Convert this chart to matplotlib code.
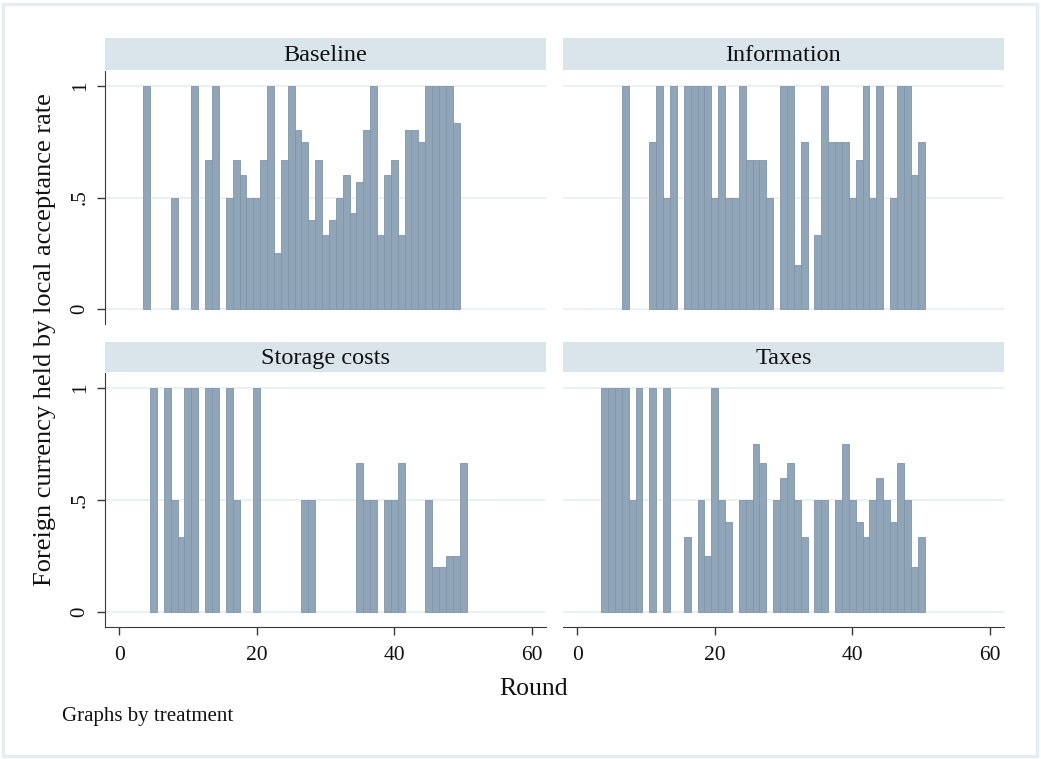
import matplotlib
matplotlib.use("Agg")
import matplotlib.pyplot as plt
from matplotlib.patches import Rectangle

plt.rcParams['font.family'] = ['Liberation Serif', 'DejaVu Serif']

# acceptance rate per round, one pair of lists per treatment
baseline_rounds = [4, 8, 11, 13, 14, 16, 17, 18, 19, 20, 21, 22, 23, 24, 25, 26, 27, 28, 29, 30,
                   31, 32, 33, 34, 35, 36, 37, 38, 39, 40, 41, 42, 43, 44, 45, 46, 47, 48, 49]
baseline_vals = [1, .5, 1, .667, 1, .5, .667, .6, .5, .5, .667, 1, .25, .667, 1, .8, .75, .4, .667, .333,
                 .4, .5, .6, .429, .571, .8, 1, .333, .6, .667, .333, .8, .8, .75, 1, 1, 1, 1, .833]

info_rounds = [7, 11, 12, 13, 14, 16, 17, 18, 19, 20, 21, 22, 23, 24, 25, 26, 27, 28, 30, 31,
               32, 33, 35, 36, 37, 38, 39, 40, 41, 42, 43, 44, 46, 47, 48, 49, 50]
info_vals = [1, .75, 1, .5, 1, 1, 1, 1, 1, .5, 1, .5, .5, 1, .667, .667, .667, .5, 1, 1,
             .2, .75, .333, 1, .75, .75, .75, .5, .667, 1, .5, 1, .5, 1, 1, .6, .75]

storage_rounds = [5, 7, 8, 9, 10, 11, 13, 14, 16, 17, 20, 27, 28, 35, 36, 37, 39, 40, 41,
                  45, 46, 47, 48, 49, 50]
storage_vals = [1, 1, .5, .333, 1, 1, 1, 1, 1, .5, 1, .5, .5, .667, .5, .5, .5, .5, .667,
                .5, .2, .2, .25, .25, .667]

taxes_rounds = [4, 5, 6, 7, 8, 9, 11, 13, 16, 18, 19, 20, 21, 22, 24, 25, 26, 27, 29, 30,
                31, 32, 33, 35, 36, 38, 39, 40, 41, 42, 43, 44, 45, 46, 47, 48, 49, 50]
taxes_vals = [1, 1, 1, 1, .5, 1, 1, 1, .333, .5, .25, 1, .5, .4, .5, .5, .75, .667, .5, .6,
              .667, .5, .333, .5, .5, .5, .75, .5, .4, .333, .5, .6, .5, .4, .667, .5, .2, .333]

titles = ['Baseline', 'Information', 'Storage costs', 'Taxes']
x_ticks = [0, 20, 40, 60]
y_ticks = [0, .5, 1]
y_ticklabels = ['0', '.5', '1']

W, H = 1041, 759
fig = plt.figure(figsize=(W / 100, H / 100), dpi=100)

def px(x0, y0, x1, y1):
    # pixel box (top-left origin) -> figure fraction
    return [x0 / W, 1 - y1 / H, (x1 - x0) / W, (y1 - y0) / H]

# outer graph region frame
fig.patches.append(Rectangle((3 / W, 3 / H), (W - 7) / W, (H - 7) / H, transform=fig.transFigure,
                             fill=False, edgecolor='#e6edf1', linewidth=2.5))

panels = [
    (baseline_rounds, baseline_vals, 105, 546, 38, 71, 324, False),
    (info_rounds, info_vals, 563, 1004, 38, 71, 324, False),
    (storage_rounds, storage_vals, 105, 546, 342, 373, 627, True),
    (taxes_rounds, taxes_vals, 563, 1004, 342, 373, 627, True),
]

bar_color = '#91a5b8'
edge_color = '#8196ab'
axis_color = '#3a3a3a'

for (rounds, vals, x0, x1, s0, y0, y1, bottom), title in zip(panels, titles):
    # strip title
    sax = fig.add_axes(px(x0, s0, x1, y0 - 1))
    sax.set_facecolor('#d9e5eb')
    sax.set_xticks([])
    sax.set_yticks([])
    for sp in sax.spines.values():
        sp.set_visible(False)
    sax.text(0.5, 0.46, title, ha='center', va='center', fontsize=17.5, color='#111111',
             transform=sax.transAxes)

    ax = fig.add_axes(px(x0, y0, x1, y1))
    ax.bar(rounds, vals, width=1, color=bar_color, edgecolor=edge_color, linewidth=0.6, zorder=3)
    ax.set_xlim(-2.05, 62.05)
    ax.set_ylim(-0.066, 1.066)
    ax.set_yticks(y_ticks)
    ax.set_yticklabels(y_ticklabels, rotation=90, va='center', fontsize=15)
    ax.yaxis.grid(True, color='#e8f0f2', linewidth=1.3, zorder=0)
    ax.set_axisbelow(True)
    ax.spines['top'].set_visible(False)
    ax.spines['right'].set_visible(False)
    ax.spines['left'].set_color(axis_color)
    ax.spines['bottom'].set_color(axis_color)
    ax.tick_params(axis='y', length=6, width=1, color=axis_color, labelcolor='#111111', pad=5)
    if x0 > 300:
        ax.spines['left'].set_visible(False)
        ax.tick_params(axis='y', left=False, labelleft=False)
    if bottom:
        ax.set_xticks(x_ticks)
        ax.tick_params(axis='x', length=6, width=1, color=axis_color, labelcolor='#111111',
                       labelsize=15.5, pad=8)
    else:
        ax.spines['bottom'].set_visible(False)
        ax.set_xticks([])

fig.text(534 / W, 1 - 689 / H, 'Round', ha='center', va='center', fontsize=18.5, color='#111111')
fig.text(45 / W, 1 - 340 / H, 'Foreign currency held by local acceptance rate', ha='center',
         va='center', rotation=90, fontsize=19, color='#111111')
fig.text(62 / W, 1 - 717 / H, 'Graphs by treatment', ha='left', va='center', fontsize=15,
         color='#111111')

fig.savefig('out.png', dpi=100)
